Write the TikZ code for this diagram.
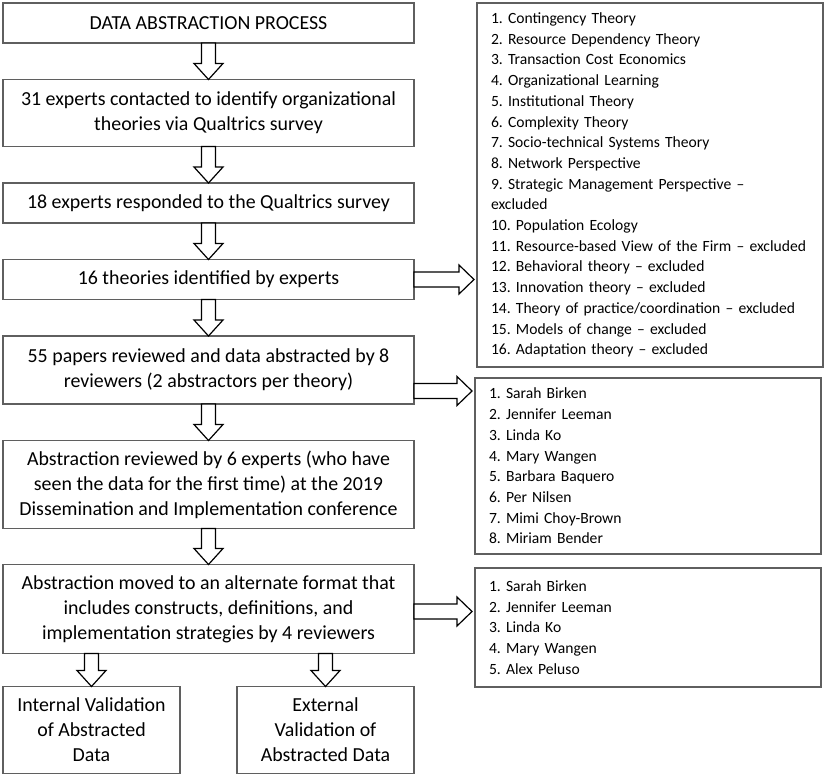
\documentclass[tikz,border=0pt]{standalone}
\usepackage{fontspec}
\setmainfont{Carlito}
\usetikzlibrary{positioning,calc}

\definecolor{boxgray}{RGB}{95,95,95}

\newcommand{\stepfont}{\fontsize{19.9}{25}\selectfont}
\newcommand{\listfont}{\fontsize{15.6}{20.7}\selectfont\frenchspacing\hyphenpenalty=10000}

% block arrows between two boxes
\newcommand{\blockdown}[2]{%
  \draw[blockarrow] let \p1=(#1), \p2=(#2) in
    (\x1-7pt,\y1) -- (\x1+7pt,\y1) -- (\x1+7pt,\y2+16pt) -- (\x1+14.5pt,\y2+16pt)
    -- (\x1,\y2) -- (\x1-14.5pt,\y2+16pt) -- (\x1-7pt,\y2+16pt) -- cycle;}
\newcommand{\blockright}[2]{%
  \draw[blockarrow] let \p1=(#1), \p2=(#2) in
    (\x1,\y1+7.5pt) -- (\x2-18pt,\y1+7.5pt) -- (\x2-18pt,\y1+14.5pt) -- (\x2-3pt,\y1)
    -- (\x2-18pt,\y1-14.5pt) -- (\x2-18pt,\y1-7.5pt) -- (\x1,\y1-7.5pt) -- cycle;}

\tikzset{
  stepbox/.style={draw=boxgray, line width=1.2pt, minimum width=411pt, minimum height=40pt,
    align=center, font=\stepfont, inner sep=4pt, outer sep=0pt},
  endbox/.style={stepbox, minimum width=177pt, minimum height=87pt},
  listbox/.style={draw=boxgray, line width=1.2pt, align=left, text width=318pt,
    inner xsep=14pt, inner ysep=4pt, outer sep=0pt, font=\listfont, anchor=north west},
  blockarrow/.style={draw=black, fill=white, line width=1.2pt, line join=miter},
}

\begin{document}
\begin{tikzpicture}[x=1pt, y=-1pt, node distance=36.5pt]
  \useasboundingbox (0,0) rectangle (829,778);

  % main column
  \node[stepbox, anchor=north west] (b1) at (3,3) {DATA ABSTRACTION PROCESS};
  \node[stepbox, minimum height=67pt] (b2) [below=of b1]
    {31 experts contacted to identify organizational\\theories via Qualtrics survey};
  \node[stepbox] (b3) [below=of b2] {18 experts responded to the Qualtrics survey};
  \node[stepbox] (b4) [below=of b3] {16 theories identified by experts};
  \node[stepbox, minimum height=68pt] (b5) [below=of b4]
    {55 papers reviewed and data abstracted by 8\\reviewers (2 abstractors per theory)};
  \node[stepbox, minimum height=88pt] (b6) [below=of b5]
    {Abstraction reviewed by 6 experts (who have\\seen the data for the first time) at the 2019\\Dissemination and Implementation conference};
  \node[stepbox, minimum height=89pt] (b7) [below=36pt of b6]
    {Abstraction moved to an alternate format that\\includes constructs, definitions, and\\implementation strategies by 4 reviewers};
  \node[endbox] (internal) [below right=33pt and 0pt of b7.south west]
    {Internal Validation\\of Abstracted\\Data};
  \node[endbox] (external) [below left=33pt and 0pt of b7.south east]
    {External\\Validation of\\Abstracted Data};

  % lists on the right
  \node[listbox, minimum height=364pt] (theories) at (477,3)
    {1. Contingency Theory\\
     2. Resource Dependency Theory\\
     3. Transaction Cost Economics\\
     4. Organizational Learning\\
     5. Institutional Theory\\
     6. Complexity Theory\\
     7. Socio-technical Systems Theory\\
     8. Network Perspective\\
     9. Strategic Management Perspective --\\
     excluded\\
     10. Population Ecology\\
     11. Resource-based View of the Firm -- excluded\\
     12. Behavioral theory -- excluded\\
     13. Innovation theory -- excluded\\
     14. Theory of practice/coordination -- excluded\\
     15. Models of change -- excluded\\
     16. Adaptation theory -- excluded};
  \node[listbox, minimum height=176pt] (reviewers) [below right=11pt and -2pt of theories.south west]
    {1. Sarah Birken\\
     2. Jennifer Leeman\\
     3. Linda Ko\\
     4. Mary Wangen\\
     5. Barbara Baquero\\
     6. Per Nilsen\\
     7. Mimi Choy-Brown\\
     8. Miriam Bender};
  \node[listbox, minimum height=119pt] (formatters) [below right=14pt and 0pt of reviewers.south west]
    {1. Sarah Birken\\
     2. Jennifer Leeman\\
     3. Linda Ko\\
     4. Mary Wangen\\
     5. Alex Peluso};

  % arrows
  \foreach \a/\b in {b1/b2, b2/b3, b3/b4, b4/b5, b5/b6, b6/b7}
    \blockdown{\a.south}{\b.north};
  \blockdown{b7.south -| internal.north}{internal.north}
  \blockdown{b7.south -| external.north}{external.north}
  \blockright{b4.east}{theories.west}
  \blockright{$(b5.east)+(0,21)$}{reviewers.west}
  \blockright{$(b7.east)+(0,2.5)$}{formatters.west}
\end{tikzpicture}
\end{document}
